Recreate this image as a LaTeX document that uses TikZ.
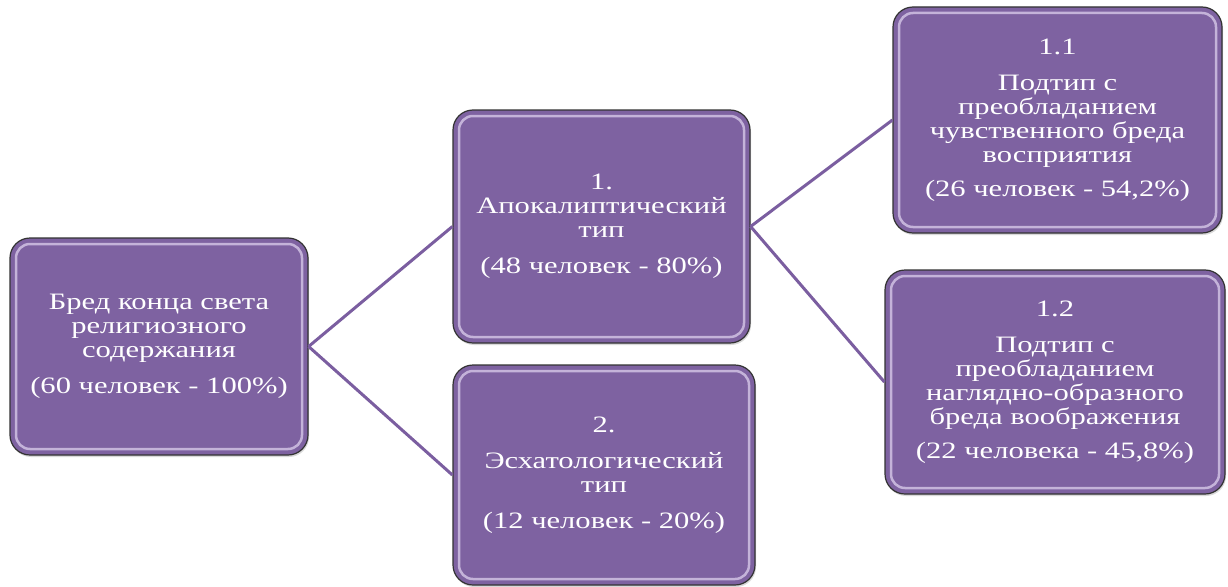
\documentclass[tikz,border=0pt]{standalone}
\usepackage{fontspec}
\setmainfont{Liberation Serif}[FakeStretch=1.3]
\usepackage{tikz}
\usetikzlibrary{shadows}
\definecolor{boxfill}{HTML}{7E62A1}
\definecolor{boxline}{HTML}{7B5EA0}
\definecolor{boxlight}{HTML}{E2D6F2}

\begin{document}
\begin{tikzpicture}[x=1pt, y=-1pt,
  box/.style={rounded corners=20pt, fill=boxfill, draw=black!80, line width=1.2pt,
    text=white, align=center, inner sep=0pt,
    font=\fontsize{23.5}{24}\selectfont,
    drop shadow={shadow xshift=1pt, shadow yshift=-2pt, opacity=0.3},
    path picture={\draw[boxlight, opacity=0.7, line width=2.5pt, rounded corners=14pt]
      ([shift={(6pt,-6pt)}]path picture bounding box.north west) rectangle
      ([shift={(-6pt,6pt)}]path picture bounding box.south east);}},
  link/.style={boxline, line width=3pt}]
\useasboundingbox (0,0) rectangle (1228,586);
% root
\node[box, minimum width=298pt, minimum height=217pt] (root) at (159,346.5)
  {Бред конца света\\ религиозного\\ содержания\\[12pt] (60 человек - 100\%)};
% types
\node[box, minimum width=297pt, minimum height=233pt] (t1) at (601.5,226.5)
  {1.\\ Апокалиптический\\ тип\\[12pt] (48 человек - 80\%)};
\node[box, minimum width=302pt, minimum height=220pt] (t2) at (604,475)
  {2.\\[12pt] Эсхатологический\\ тип\\[12pt] (12 человек - 20\%)};
% subtypes
\node[box, minimum width=329pt, minimum height=226pt] (t11) at (1057.5,120)
  {1.1\\[12pt] Подтип с\\ преобладанием\\ чувственного бреда\\ восприятия\\[10pt] (26 человек - 54,2\%)};
\node[box, minimum width=340pt, minimum height=224pt] (t12) at (1055,382)
  {1.2\\[12pt] Подтип с\\ преобладанием\\ наглядно-образного\\ бреда воображения\\[10pt] (22 человека - 45,8\%)};
% links
\draw[link] (root.east) -- (t1.west);
\draw[link] (root.east) -- (t2.west);
\draw[link] (t1.east) -- (t11.west);
\draw[link] (t1.east) -- (t12.west);
\end{tikzpicture}
\end{document}
